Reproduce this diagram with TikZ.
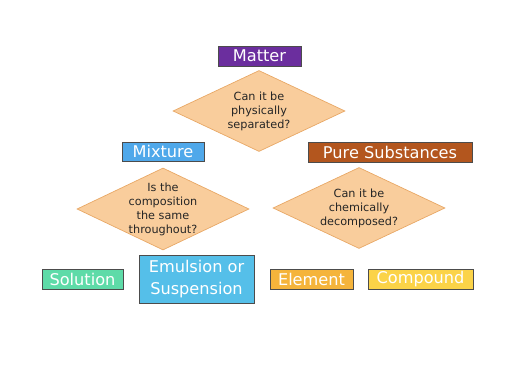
\documentclass[tikz,border=0pt]{standalone}
\usepackage{fontspec}
\setmainfont{DejaVu Sans}
\usepackage{xcolor}
\usetikzlibrary{positioning, shapes.geometric}

\definecolor{mattercol}{HTML}{6B2E9E}
\definecolor{mixcol}{HTML}{4FA8EA}
\definecolor{purecol}{HTML}{B3561E}
\definecolor{solcol}{HTML}{5EDBA8}
\definecolor{emulcol}{HTML}{55BFE9}
\definecolor{elemcol}{HTML}{F5B43B}
\definecolor{compcol}{HTML}{FBD348}
\definecolor{qfill}{HTML}{F9CD9C}
\definecolor{qline}{HTML}{E8A866}

\begin{document}
\begin{tikzpicture}[
        box/.style={draw=black!70, fill=#1, text=white, inner sep=0pt, minimum height=0.40cm, font=\fontsize{9.2}{13}\selectfont, align=center},
        box/.default=mixcol,
        quest/.style={draw=qline, fill=qfill, diamond, inner sep=0pt, minimum width=3.44cm, minimum height=1.62cm},
        qtext/.style={inner sep=0pt, text=black!85, font=\fontsize{6.4}{8}\selectfont, align=center},
    ]
    \useasboundingbox (0,0) rectangle (10.42,7.68);

    % Top level
    \node[box=mattercol, minimum width=1.66cm] (matter) at (5.19,6.56) {Matter};
    \node[quest, label={[qtext]center:Can it be\\physically\\separated?}] (qsep) at (5.18,5.46) {};

    % Second level
    \node[box=mixcol, minimum width=1.64cm, minimum height=0.38cm] (mix) at (3.26,4.65) {Mixture};
    \node[box=purecol, minimum width=3.28cm] (pure) at (7.80,4.64) {Pure Substances};

    % Questions
    \node[quest, minimum height=1.64cm, label={[qtext]center:Is the\\composition\\the same\\throughout?}] (qcomp) at (3.26,3.50) {};
    \node[quest, label={[qtext]center:Can it be\\chemically\\decomposed?}] (qdec) at (7.18,3.52) {};

    % Bottom level
    \node[box=solcol, minimum width=1.62cm] (sol) at (1.65,2.10) {Solution};
    \node[box=emulcol, minimum width=2.30cm, minimum height=0.96cm] (emul) at (3.93,2.10) {Emulsion or\\Suspension};
    \node[box=elemcol, minimum width=1.66cm] (elem) at (6.23,2.10) {Element};
    \node[box=compcol, minimum width=2.10cm] (comp) at (8.41,2.10) {Compound};
\end{tikzpicture}
\end{document}
